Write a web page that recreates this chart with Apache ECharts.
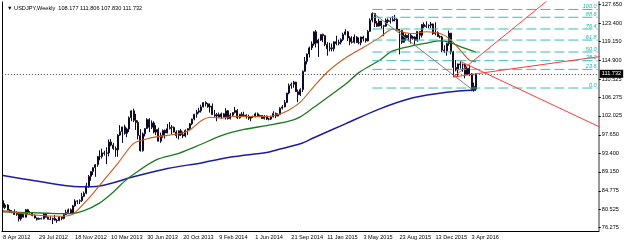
<!DOCTYPE html>
<html>
<head>
<meta charset="utf-8">
<script src="https://cdn.jsdelivr.net/npm/echarts@6/dist/echarts.min.js"></script>
<style>
html, body { margin: 0; padding: 0; background: #fff; }
#main { width: 625px; height: 242px; }
</style>
</head>
<body>
<div id="main"></div>
<script>
// weekly bars, [open, high, low, close], first week = 8 Apr 2012
var bars2012 = [
    [82.5,82.6,80.6,80.9],[80.9,81.9,80.6,81.5],[81.5,81.7,80.3,80.3],[80.3,80.5,79.7,79.9],
    [79.9,80.3,79.6,79.9],[79.9,80.5,79.2,79.3],[79.3,80.0,79.0,79.6],[79.6,79.8,77.7,78.3],
    [78.3,79.6,77.9,79.5],[79.5,79.8,78.6,78.7],[78.7,80.6,78.6,80.4],[80.4,80.6,79.3,79.8],
    [79.8,80.1,79.5,79.7],[79.7,79.9,78.9,79.1],[79.1,79.3,78.4,78.5],[78.5,78.6,77.9,78.2],
    [78.2,78.6,78.1,78.4],[78.4,78.6,78.2,78.3],[78.3,79.6,78.2,79.5],[79.5,79.6,78.6,78.7],
    [78.7,78.8,78.2,78.2],[78.2,78.9,78.0,78.2],[78.2,78.6,77.1,78.4],[78.4,79.2,77.9,78.0],
    [78.0,78.3,77.4,77.9],[77.9,78.9,77.8,78.7],[78.7,78.8,78.0,78.4],[78.4,79.5,78.2,79.3],
    [79.3,80.4,79.2,79.8],[79.8,80.7,79.4,80.4],[80.4,80.7,79.5,79.5],[79.5,81.5,79.4,81.3],
    [81.3,82.8,81.1,82.4],[82.4,82.6,81.7,82.4],[82.4,82.8,81.7,82.5],[82.5,84.3,82.2,83.5],
    [83.5,84.6,83.3,84.2],[84.2,86.6,84.0,85.9],[85.9,88.4,85.5,88.1]
];
var bars2013 = [
    [88.1,89.3,87.1,89.2],[89.2,90.2,88.4,90.1],[90.1,90.9,88.0,90.8],[90.8,92.8,90.3,92.7],
    [92.7,94.1,91.8,92.7],[92.7,94.5,92.2,93.5],[93.5,94.0,92.9,93.4],[93.4,94.8,90.9,93.5],
    [93.5,96.6,92.7,96.0],[96.0,96.7,95.0,95.3],[95.3,95.8,94.2,94.5],[94.5,95.0,92.6,94.2],
    [94.2,97.8,92.6,97.6],[97.6,99.9,97.4,98.4],[98.4,99.5,95.8,99.5],[99.5,100.0,97.7,98.0],
    [98.0,99.3,97.1,99.0],[99.0,101.9,98.3,101.6],[101.6,103.3,100.8,103.2],[103.2,103.7,100.6,101.0],
    [101.0,102.5,98.8,100.5],[100.5,101.0,96.6,97.5],[97.5,99.0,93.8,94.0],[94.0,98.2,93.8,97.9],
    [97.9,99.2,97.3,99.1],[99.1,101.5,99.0,101.2],[101.2,101.5,98.3,99.4],[99.4,101.0,99.0,100.4],
    [100.4,100.8,98.0,98.3],[98.3,99.9,97.6,98.9],[98.9,99.3,96.1,96.2],[96.2,98.2,95.8,97.5],
    [97.5,98.9,97.0,98.7],[98.7,98.9,96.8,98.1],[98.1,100.2,98.0,99.1],[99.1,100.6,98.9,99.4],
    [99.4,99.9,97.8,99.4],[99.4,99.6,98.2,98.3],[98.3,98.7,96.9,97.5],[97.5,98.7,96.6,98.6],
    [98.6,99.0,97.4,97.7],[97.7,98.4,96.9,97.4],[97.4,98.9,97.1,98.7],[98.7,99.2,97.6,99.1],
    [99.1,100.4,98.8,100.2],[100.2,101.4,99.9,101.3],[101.3,102.5,101.0,102.4],[102.4,103.4,101.6,102.9],
    [102.9,103.9,102.6,103.2],[103.2,104.6,102.8,104.1],[104.1,105.2,104.0,105.1],[105.1,105.4,104.2,104.8]
];
var bars2014 = [
    [104.8,105.0,103.9,104.1],[104.1,104.9,102.8,104.3],[104.3,104.9,102.3,102.3],[102.3,103.4,101.8,102.0],
    [102.0,102.7,100.8,102.3],[102.3,102.8,101.6,101.8],[101.8,102.8,101.4,102.5],[102.5,102.7,101.7,101.8],
    [101.8,103.8,101.2,103.2],[103.2,103.4,101.2,101.4],[101.4,102.7,101.2,102.2],[102.2,102.9,101.8,102.8],
    [102.8,104.1,102.6,103.3],[103.3,103.6,101.3,101.6],[101.6,102.5,101.4,102.4],[102.4,102.9,102.0,102.1],
    [102.1,103.0,101.9,102.2],[102.2,102.4,101.4,101.8],[101.8,102.3,101.1,101.5],[101.5,101.9,100.8,101.9],
    [101.9,102.1,101.6,101.8],[101.8,102.8,101.7,102.5],[102.5,102.8,101.8,102.0],[102.0,102.3,101.7,102.1],
    [102.1,102.2,101.4,101.4],[101.4,102.2,101.2,102.0],[102.0,102.1,101.1,101.3],[101.3,101.6,101.0,101.3],
    [101.3,101.9,101.1,101.8],[101.8,103.1,101.7,102.6],[102.6,102.8,101.5,102.0],[102.0,102.6,101.9,102.4],
    [102.4,104.0,102.3,103.8],[103.8,104.5,103.5,104.1],[104.1,105.7,104.0,105.1],[105.1,107.3,105.0,107.3],
    [107.3,109.5,107.0,109.0],[109.0,109.7,108.3,109.3],[109.3,110.1,108.5,109.8],[109.8,109.9,107.6,107.6],
    [107.6,108.1,105.2,106.9],[106.9,108.4,106.6,108.1],[108.1,112.5,107.5,112.3],[112.3,115.6,112.2,114.6],
    [114.6,116.4,113.9,116.3],[116.3,118.0,115.5,117.7],[117.7,119.2,117.2,118.6],[118.6,121.5,118.2,121.4],
    [121.4,121.8,117.8,118.8],[118.8,119.8,115.6,119.5],[119.5,120.8,119.3,120.8],[120.8,121.0,119.0,120.5]
];
var bars2015 = [
    [120.5,120.7,118.1,118.5],[118.5,119.0,115.9,117.5],[117.5,118.9,116.9,117.7],[117.7,118.7,116.9,117.5],
    [117.5,119.2,116.9,119.1],[119.1,120.5,118.3,118.7],[118.7,119.6,118.3,119.0],[119.0,119.9,118.5,119.6],
    [119.6,121.2,119.3,120.8],[120.8,122.0,120.6,121.4],[121.4,121.6,119.3,120.0],[120.0,120.4,118.3,119.1],
    [119.1,120.4,118.7,119.0],[119.0,120.8,118.7,120.2],[120.2,120.4,118.9,118.9],[118.9,120.1,118.5,118.9],
    [118.9,120.3,118.3,120.2],[120.2,120.5,119.2,119.8],[119.8,120.0,118.9,119.3],[119.3,121.8,119.2,121.5],
    [121.5,124.5,121.4,124.1],[124.1,125.9,123.6,125.6],[125.6,125.7,122.5,123.4],[123.4,123.9,122.5,122.7],
    [122.7,124.4,122.6,123.9],[123.9,123.9,122.1,122.8],[122.8,123.0,120.4,122.7],[122.7,124.5,122.5,124.1],
    [124.1,124.5,123.4,123.8],[123.8,124.6,123.3,123.9],[123.9,125.0,123.8,124.2],[124.2,125.3,123.8,124.3],
    [124.3,124.5,121.7,122.0],[122.0,122.0,116.2,121.7],[121.7,121.8,118.6,119.0],[119.0,121.3,118.9,120.6],
    [120.6,121.0,119.3,120.0],[120.0,121.0,119.2,120.6],[120.6,120.9,118.7,119.9],[119.9,120.5,119.6,120.2],
    [120.2,120.4,118.1,119.4],[119.4,121.5,119.1,121.5],[121.5,121.5,119.6,120.6],[120.6,123.2,120.1,123.1],
    [123.1,123.6,122.3,122.6],[122.6,123.8,122.3,122.8],[122.8,123.1,122.2,122.9],[122.9,123.7,122.3,123.2],
    [123.2,123.3,120.7,121.0],[121.0,123.6,120.6,121.2],[121.2,121.5,120.2,120.3],[120.3,120.6,119.9,120.2]
];
var bars2016 = [
    [120.2,120.5,116.7,117.2],[117.2,118.3,116.5,117.0],[117.0,118.9,115.9,118.7],[118.7,121.7,118.2,121.1],
    [121.1,121.1,116.2,116.8],[116.8,117.0,110.98,113.2],[113.2,114.9,112.3,112.6],[112.6,114.1,111.0,114.0],
    [114.0,114.6,112.9,113.8],[113.8,114.1,112.2,113.8],[113.8,114.0,110.7,111.6],[111.6,113.3,111.5,113.0],
    [113.0,113.8,111.2,111.7],[111.7,111.9,107.7,108.1],[108.1,109.7,107.6,108.8],[108.177,111.806,107.830,111.732]
];

// moving averages, [week index, price]
var maBrown = [[0,80.2],[14,79.2],[26,78.9],[31,79.4],[36,81.9],[40,84.2],[43,86.1],[51,91.1],[58,95.7],
    [63,96.6],[68,97.2],[78,97.9],[83,98.8],[88,100.9],[92,101.7],[97,101.5],[102,101.9],[117,101.9],
    [122,102.3],[127,103.4],[132,105.2],[138,108.8],[145,112.6],[153,115.7],[160,117.8],[167,120.0],
    [173,122.0],[177,121.4],[182,121.0],[188,121.4],[194,121.0],[198,119.9],[203,117.2],[207,114.9],[210,114.5]];
var maGreen = [[0,79.9],[20,79.6],[30,79.5],[36,80.2],[43,82.0],[49,84.5],[54,87.0],[58,88.6],[68,91.9],
    [78,93.4],[88,95.5],[97,97.5],[107,98.9],[117,99.8],[127,100.8],[132,101.8],[138,104.0],[152,109.3],
    [158,112.0],[167,114.8],[173,117.0],[182,118.2],[188,118.8],[194,119.3],[198,119.0],[203,118.0],[210,116.7]];
var maBlue = [[0,88.3],[14,87.1],[34,85.7],[43,85.9],[58,88.0],[73,89.9],[88,91.2],[102,92.6],[117,93.6],
    [123,94.4],[132,95.6],[138,97.0],[152,100.2],[167,103.6],[182,106.2],[197,107.5],[210,108.0]];

// fibo retracement
var fibLevels = ['100.0','88.6','76.4','61.8','50.0','38.2','23.6','0.0'];
var fibPrices = [126.55,124.75,122.05,119.5,116.75,114.75,112.75,108.45];
var fibFrom = 164, fibTo = 264;
var fibBase = [[164,125.85],[208,108.2]];

// red trend lines
var redLines = [
    [[200,111.0],[242,128.73]],
    [[200,111.0],[264.6,115.7]],
    [[203,114.6],[264.6,99.45]]
];

var lastPrice = 111.732;
var priceTicks = [127.650,123.400,119.150,114.900,110.525,106.275,102.025,97.650,93.400,89.150,84.775,80.525,76.275];
var xTickLabels = ['8 Apr 2012','29 Jul 2012','18 Nov 2012','10 Mar 2013','30 Jun 2013','20 Oct 2013',
    '9 Feb 2014','1 Jun 2014','21 Sep 2014','11 Jan 2015','3 May 2015','23 Aug 2015','13 Dec 2015','3 Apr 2016'];
var weekCount = 265;

var months = ['Jan','Feb','Mar','Apr','May','Jun','Jul','Aug','Sep','Oct','Nov','Dec'];
var categories = [];
var t0 = Date.UTC(2012, 3, 8);
for (var i = 0; i < weekCount; i++) {
    var d = new Date(t0 + i * 7 * 86400000);
    categories.push(d.getUTCDate() + ' ' + months[d.getUTCMonth()] + ' ' + d.getUTCFullYear());
}

var candles = [];
[bars2012, bars2013, bars2014, bars2015, bars2016].forEach(function (arr) {
    arr.forEach(function (b) {
        candles.push([b[0], b[3], b[2], b[1]]);
    });
});

var font = "'Liberation Sans', sans-serif";
var fs = 5.6;

var series = [];
series.push({
    type: 'candlestick',
    data: candles,
    barWidth: 1.5,
    itemStyle: {
        color: '#ffffff',
        borderColor: '#0a0a2a',
        color0: '#7a1010',
        borderColor0: '#1a0a1a',
        borderWidth: 1
    },
    markLine: {
        symbol: 'none',
        silent: true,
        lineStyle: { color: '#444', type: [1, 2], width: 1 },
        label: {
            position: 'end',
            distance: 1,
            formatter: lastPrice.toFixed(3),
            backgroundColor: '#000',
            color: '#fff',
            fontSize: fs,
            fontFamily: font,
            padding: [1, 2, 1, 2]
        },
        data: [{ yAxis: lastPrice }]
    }
});

function lineSeries(data, color, width) {
    return {
        type: 'line',
        data: data,
        smooth: 0.3,
        symbol: 'none',
        lineStyle: { color: color, width: width }
    };
}
series.push(lineSeries(maBlue, '#1c1ca0', 1.5));
series.push(lineSeries(maGreen, '#1d7a1d', 1.3));
series.push(lineSeries(maBrown, '#c85a1e', 1.1));

fibPrices.forEach(function (p, k) {
    series.push({
        type: 'line',
        symbol: 'circle',
        symbolSize: 0,
        showSymbol: true,
        data: [[fibFrom, p], {
            value: [fibTo, p],
            label: {
                show: true,
                position: 'left',
                distance: 1,
                offset: [0, -3],
                formatter: fibLevels[k],
                color: '#20b2aa',
                fontSize: fs,
                fontFamily: font,
                fontStyle: 'italic'
            }
        }],
        lineStyle: { color: '#3cbcb4', width: 1, type: [10, 4] }
    });
});

series.push({
    type: 'line', symbol: 'none', data: fibBase,
    lineStyle: { color: '#808080', width: 1 }
});

redLines.forEach(function (ln) {
    series.push({
        type: 'line', symbol: 'none', data: ln,
        lineStyle: { color: '#ff3a3a', width: 1 }
    });
});

var myChart = echarts.init(document.getElementById('main'));
var option = {
    animation: false,
    backgroundColor: '#ffffff',
    title: {
        text: '\u25BC USDJPY,Weekly  108.177 111.806 107.830 111.732',
        left: 2,
        top: 0,
        textStyle: { fontSize: fs, fontWeight: 'normal', color: '#000', fontFamily: font }
    },
    grid: { left: 1, right: 25, top: 2, bottom: 11 },
    xAxis: {
        type: 'category',
        data: categories,
        boundaryGap: true,
        axisLine: { lineStyle: { color: '#000', width: 1 } },
        axisTick: {
            length: 2,
            lineStyle: { color: '#000' },
            interval: function (idx, val) { return xTickLabels.indexOf(val) >= 0; }
        },
        axisLabel: {
            interval: function (idx, val) { return xTickLabels.indexOf(val) >= 0; },
            hideOverlap: false,
            align: 'left',
            margin: 3,
            color: '#000',
            fontSize: fs,
            fontFamily: font
        },
        splitLine: { show: false }
    },
    yAxis: [{
        type: 'value',
        position: 'right',
        min: 75.51,
        max: 128.27,
        axisLine: { show: true, lineStyle: { color: '#999', width: 2 } },
        axisTick: { show: true, inside: false, length: 2, customValues: priceTicks, lineStyle: { color: '#000' } },
        axisLabel: {
            customValues: priceTicks,
            formatter: function (v) { return v.toFixed(3); },
            margin: 3,
            color: '#000',
            fontSize: fs,
            fontFamily: font
        },
        splitLine: { show: false }
    }, {
        type: 'value',
        position: 'left',
        min: 75.51,
        max: 128.27,
        axisLine: { show: true, lineStyle: { color: '#000', width: 1 } },
        axisTick: { show: false },
        axisLabel: { show: false },
        splitLine: { show: false }
    }],
    series: series
};
myChart.setOption(option);
</script>
</body>
</html>
